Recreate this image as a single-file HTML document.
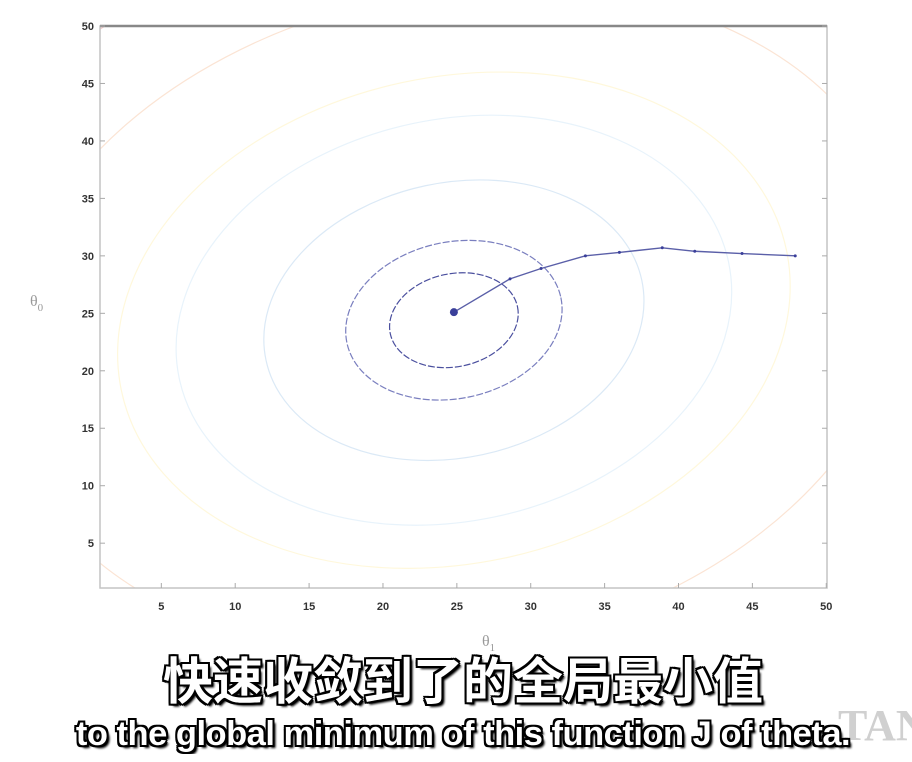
<!DOCTYPE html>
<html><head><meta charset="utf-8"><style>
html,body{margin:0;padding:0;background:#fff;width:912px;height:762px;overflow:hidden;position:relative}
#c{position:absolute;left:0;top:0}
.sub{position:absolute;left:0;width:912px;box-sizing:border-box;padding-left:14px;text-align:center;color:#fff;font-weight:bold;white-space:nowrap;overflow:hidden;
text-shadow:-2px -2px 0 #000,2px -2px 0 #000,-2px 2px 0 #000,2px 2px 0 #000,0 2px 0 #000,0 -2px 0 #000,2px 0 0 #000,-2px 0 0 #000,3px 3px 2px #000}
</style></head><body>
<svg id="c" width="912" height="762">
<g id="contours"></g>
<g id="axes"></g>
<g id="path"></g>
<text x="30" y="306" font-family="Liberation Serif,serif" font-size="16" fill="#999">θ<tspan font-size="11" dy="5">0</tspan></text>
<text x="482" y="646" font-family="Liberation Serif,serif" font-size="16" fill="#999">θ<tspan font-size="11" dy="5">1</tspan></text>
<text x="838" y="740" font-family="Liberation Serif,serif" font-size="44" font-weight="bold" fill="#d0d0d0">TAN</text>
</svg>
<div class="sub" style="top:652px;height:60px;line-height:60px;font-size:50px;font-family:'Liberation Sans','Noto Sans CJK SC',sans-serif">快速收敛到了的全局最小值</div>
<div class="sub" style="top:714px;height:40px;line-height:40px;font-size:34.5px;font-family:'Liberation Sans','Noto Sans CJK SC',sans-serif;letter-spacing:-0.5px">to the global minimum of this function J of theta.</div>
<script>
const xTicks=[5,10,15,20,25,30,35,40,45,50];
const yTicks=[5,10,15,20,25,30,35,40,45,50];
const pathX=[47.9,44.3,41.1,38.9,36.0,33.7,30.7,28.6,24.8];
const pathY=[30.0,30.2,30.4,30.7,30.3,30.0,28.9,28.0,25.1];
const contourR=[4.4,7.4,13,19,23,31,39];
const contourColor=["#4a4f9e","#7a7fbf","#dbe9f6","#e8f3fb","#fff8dc","#fbe4d4","#f5cccc"];
const L=100,R=827,T=26,B=588,X0=0.85,X1=50.05,Y0=1.1,Y1=50;
function sx(v){return L+(v-X0)/(X1-X0)*(R-L);}
function sy(v){return B-(v-Y0)/(Y1-Y0)*(B-T);}
const NS="http://www.w3.org/2000/svg";
function mk(t,a,p){const e=document.createElementNS(NS,t);for(const k in a)e.setAttribute(k,a[k]);p.appendChild(e);return e;}
const cg=document.getElementById('contours');
const clip=mk('clipPath',{id:'cl'},document.getElementById('c'));
mk('rect',{x:L,y:T,width:R-L,height:B-T},clip);
cg.setAttribute('clip-path','url(#cl)');
contourR.forEach((r,i)=>{
 const e=mk('ellipse',{cx:sx(24.8),cy:sy(24.4),rx:sx(24.8+r*1.0)-sx(24.8),ry:sy(24.4)-sy(24.4+r*0.92),
  transform:`rotate(-12 ${sx(24.8)} ${sy(24.4)})`,fill:'none',stroke:contourColor[i],'stroke-width':1.2,
  'stroke-dasharray':i<2?'7 2':'none'},cg);
 
 
});
const ag=document.getElementById('axes');
mk('rect',{x:L,y:T,width:R-L,height:B-T,fill:'none',stroke:'#c4c4c4','stroke-width':1.5},ag);
mk('line',{x1:L,y1:T,x2:R,y2:T,stroke:'#888','stroke-width':2.5},ag);
xTicks.forEach(v=>{
 mk('line',{x1:sx(v),y1:B,x2:sx(v),y2:B-5,stroke:'#aaa'},ag);
 const t=mk('text',{x:sx(v),y:B+22,'text-anchor':'middle','font-family':'Liberation Sans,sans-serif','font-size':11,'font-weight':'bold',fill:'#333'},ag);
 t.textContent=v;
 
 
});
yTicks.forEach(v=>{
 mk('line',{x1:L,y1:sy(v),x2:L+5,y2:sy(v),stroke:'#aaa'},ag);
 mk('line',{x1:R,y1:sy(v),x2:R-5,y2:sy(v),stroke:'#aaa'},ag);
 const t=mk('text',{x:L-6,y:sy(v)+4,'text-anchor':'end','font-family':'Liberation Sans,sans-serif','font-size':11,'font-weight':'bold',fill:'#333'},ag);
 t.textContent=v;
 
 
});
const pg=document.getElementById('path');
const pts=pathX.map((x,i)=>sx(x)+','+sy(pathY[i])).join(' ');
const pl=mk('polyline',{points:pts,fill:'none',stroke:'#5a5fa8','stroke-width':1.4},pg);


pathX.forEach((x,i)=>{
 const last=i===pathX.length-1;
 const c=mk('circle',{cx:sx(x),cy:sy(pathY[i]),r:last?4:1.5,fill:'#3a3f9a'},pg);
 
 
});
</script>
</body></html>
